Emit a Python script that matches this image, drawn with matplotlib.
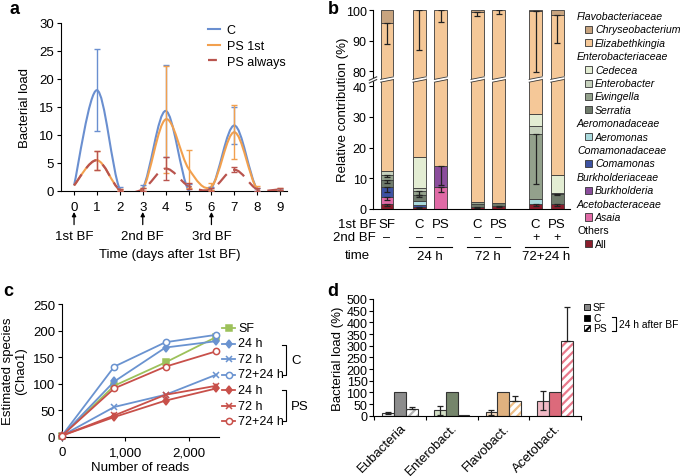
import numpy as np
import matplotlib
matplotlib.use('Agg')
import matplotlib.pyplot as plt
import matplotlib.transforms as mtransforms
from matplotlib.path import Path
from matplotlib.patches import PathPatch, Rectangle, Polygon
from matplotlib.lines import Line2D

plt.rcParams['font.family'] = ['Liberation Sans', 'DejaVu Sans']
plt.rcParams['font.size'] = 8.5
plt.rcParams['hatch.linewidth'] = 1.6

# ---- panel a: bacterial load over time ----
days = [0, 1, 2, 3, 4, 5, 6, 7, 8, 9]
load_c = [1.0, 18.0, 0.3, 0.5, 14.3, 0.1, 0.5, 11.7, 0.3, 0.2]
err_c = [0, 7.3, 0.5, 0.6, 8.2, 1.2, 0.3, 3.3, 0.3, 0.1]
load_ps1 = [1.0, 5.5, 0.2, 0.3, 12.8, 4.0, 0.8, 10.5, 0.3, 0.3]
err_ps1 = [0, 1.7, 0.2, 0.3, 9.5, 3.4, 0.6, 4.8, 0.6, 0.2]
load_psa = [1.0, 5.5, 0.2, 0.3, 4.0, 0.9, 0.3, 3.8, 0.3, 0.3]
err_psa = [0, 1.7, 0.2, 0.3, 2.1, 0.5, 0.3, 0.4, 0.3, 0.2]
bf_days = [0, 3, 6]
bf_labels = ['1st BF', '2nd BF', '3rd BF']

# ---- panel b: relative contribution (stack bottom -> top) ----
b_1st = ['SF', 'C', 'PS', 'C', 'PS', 'C', 'PS']
b_2nd = ['\u2013', '\u2013', '\u2013', '\u2013', '\u2013', '+', '+']
b_time = ['24 h', '72 h', '72+24 h']
others_all = [1.5, 0.8, 0, 0.8, 0.9, 1.5, 1.5]
asaia = [2.5, 0, 7.0, 0, 0, 0, 0]
burkholderia = [0, 0, 7.0, 0, 0, 0, 0]
comamonas = [3.3, 0.6, 0, 0, 0, 0, 0]
aeromonas = [0, 1.2, 0, 0, 0, 1.8, 0]
serratia = [2.0, 2.1, 0, 0.8, 0.9, 0, 3.5]
ewingella = [1.7, 1.1, 0, 0.7, 0, 21.2, 0.3]
enterobacter = [1.5, 0.9, 0, 0, 0, 2.5, 0]
cedecea = [0, 10.3, 0, 0, 0, 4.0, 5.7]
elizabethkingia = [83.3, 83.0, 86.0, 97.2, 98.2, 68.8, 87.3]
chryseobacterium = [4.2, 0, 0, 0.5, 0, 0.2, 1.7]
# downward error bars at top of each segment
err_all = [0.6, 0.4, 0, 0.4, 0.4, 0.5, 0.5]
err_asaia = [1.0, 0, 1.6, 0, 0, 0, 0]
err_burk = [0, 0, 6.3, 0, 0, 0, 0]
err_coma = [1.8, 0, 0, 0, 0, 0, 0]
err_serr = [0.8, 0.8, 0, 0, 0, 0, 0.5]
err_ewing = [0.5, 1.2, 0, 0, 0, 16.5, 0]
err_eliz = [6.8, 13.0, 4.0, 1.5, 1.3, 20.0, 9.0]

# ---- panel c: rarefaction ----
reads = [0, 825, 1635, 2440]
sf_chao = [2, 96, 140, 188]
c24_chao = [2, 104, 168, 180]
c72_chao = [2, 56, 79, 117]
c7224_chao = [2, 132, 178, 192]
ps24_chao = [2, 37, 68, 91]
ps72_chao = [2, 40, 79, 96]
ps7224_chao = [2, 91, 132, 161]

# ---- panel d: bacterial load (%) 24 h after BF ----
d_groups = ['Eubacteria', 'Enterobact.', 'Flavobact.', 'Acetobact.']
d_sf = [11.5, 24, 14, 64]
d_sf_err = [5, 19, 10, 41]
d_c = [100, 100, 100, 100]
d_ps = [27, 3, 64, 318]
d_ps_err = [11, 0, 19, 149]

W, H = 685, 477
fig = plt.figure(figsize=(W / 100, H / 100), dpi=100)


def box(l, t, r, b):
    return [l / W, 1 - b / H, (r - l) / W, (b - t) / H]


def fx(px):
    return px / W


def fy(py):
    return 1 - py / H


def smooth_path(x, y):
    # excel-like smoothed line (catmull-rom as bezier segments)
    n = len(x)
    verts = [(x[0], y[0])]
    codes = [Path.MOVETO]
    for i in range(n - 1):
        i0 = max(i - 1, 0)
        i3 = min(i + 2, n - 1)
        c1 = (x[i] + (x[i + 1] - x[i0]) / 6, y[i] + (y[i + 1] - y[i0]) / 6)
        c2 = (x[i + 1] - (x[i3] - x[i]) / 6, y[i + 1] - (y[i3] - y[i]) / 6)
        verts += [c1, c2, (x[i + 1], y[i + 1])]
        codes += [Path.CURVE4] * 3
    return Path(verts, codes)


def clean(ax):
    ax.spines['top'].set_visible(False)
    ax.spines['right'].set_visible(False)
    ax.tick_params(direction='out', length=3, width=0.8, pad=2)


# ================= a =================
ax = fig.add_axes(box(61, 24, 287, 192))
clean(ax)
blue = '#6a8fd0'
orange = '#f2a04e'
red = '#b9544e'
ax.add_patch(PathPatch(smooth_path(days, load_c), fill=False, ec=blue, lw=1.5, zorder=3))
ax.add_patch(PathPatch(smooth_path(days, load_ps1), fill=False, ec=orange, lw=1.5, zorder=3))
ax.add_patch(PathPatch(smooth_path(days, load_psa), fill=False, ec=red, lw=1.6,
                       linestyle=(0, (6, 3.5)), zorder=4))
for vals, errs, col in [(load_c, err_c, blue), (load_ps1, err_ps1, orange), (load_psa, err_psa, red)]:
    idx = [i for i in range(len(days)) if errs[i] > 0]
    ax.errorbar([days[i] for i in idx], [vals[i] for i in idx], yerr=[errs[i] for i in idx],
                fmt='none', ecolor=col, elinewidth=1, capsize=2, capthick=1, zorder=5)
ax.set_xlim(-0.57, 9.3)
ax.set_ylim(0, 30)
ax.set_xticks(days)
ax.set_yticks([0, 5, 10, 15, 20, 25, 30])
ax.tick_params(axis='both', labelsize=9.5)
ax.tick_params(axis='x', pad=4)
ax.set_ylabel('Bacterial load', fontsize=9.5, labelpad=6)
trans = ax.get_xaxis_transform()
for d, lab in zip(bf_days, bf_labels):
    ax.annotate('', xy=(d, -0.125), xytext=(d, -0.2), xycoords=trans, textcoords=trans,
                arrowprops=dict(arrowstyle='-|>', lw=0.9, color='k', mutation_scale=6,
                                shrinkA=0, shrinkB=0))
    ax.text(d, -0.27, lab, transform=trans, ha='center', va='center', fontsize=9.5)
ax.text(0.48, -0.375, 'Time (days after 1st BF)', transform=ax.transAxes,
        ha='center', va='center', fontsize=9.5)
handles = [Line2D([], [], color=blue, lw=1.5),
           Line2D([], [], color=orange, lw=1.5),
           Line2D([], [], color=red, lw=1.6, linestyle=(0, (4, 2.5)))]
ax.legend(handles, ['C', 'PS 1st', 'PS always'], loc='upper left', frameon=False,
          bbox_to_anchor=(0.6, 1.06), handlelength=1.0, handletextpad=0.5,
          labelspacing=0.3, fontsize=9)

# ================= b =================
species = ['All', 'Asaia', 'Burkholderia', 'Comamonas', 'Aeromonas', 'Serratia',
           'Ewingella', 'Enterobacter', 'Cedecea', 'Elizabethkingia', 'Chryseobacterium']
stack = [others_all, asaia, burkholderia, comamonas, aeromonas, serratia,
         ewingella, enterobacter, cedecea, elizabethkingia, chryseobacterium]
errs_b = [err_all, err_asaia, err_burk, err_coma, None, err_serr,
          err_ewing, None, None, err_eliz, None]
colors_b = ['#8a1d2c', '#e06aa6', '#8b4d9c', '#3d52a2', '#a9d9dc', '#6f7b6b',
            '#93a18c', '#c6d1bd', '#e3edd3', '#f5c898', '#c8a47f']
xpos = np.array([0, 1.5, 2.5, 4.2, 5.2, 6.9, 7.9])
bw = 0.6

ax_lo = fig.add_axes(box(373, 80, 570, 210))
ax_hi = fig.add_axes(box(373, 11, 570, 80))
ax_lo.set_zorder(3)
ax_lo.patch.set_visible(False)
for a in (ax_lo, ax_hi):
    clean(a)
    bottom = np.zeros(len(xpos))
    for vals, col, er in zip(stack, colors_b, errs_b):
        vals = np.array(vals)
        m = vals > 0
        a.bar(xpos[m], vals[m], bw, bottom=bottom[m], color=col, edgecolor='#3a3a3a', lw=0.6, zorder=2)
        top = bottom + vals
        if er is not None:
            er = np.array(er)
            k = er > 0
            a.errorbar(xpos[k], top[k], yerr=[er[k], np.zeros(k.sum())], fmt='none',
                       ecolor='#222222', elinewidth=0.9, capsize=2, capthick=0.9, zorder=4)
        bottom = top
    a.set_xlim(-0.65, 8.5)
    a.tick_params(axis='y', labelsize=9, pad=1.5)
ax_lo.set_ylim(0, 42.3)
ax_lo.set_yticks([0, 10, 20, 30, 40])
ax_hi.set_ylim(77.4, 100)
ax_hi.set_yticks([80, 90, 100])
ax_hi.spines['bottom'].set_visible(False)
ax_hi.set_xticks([])
ax_lo.set_xticks([])

# break marks across bars and axis
for x in xpos:
    ax_lo.add_patch(Polygon([(x - 0.34, 41.2), (x + 0.34, 42.3), (x + 0.34, 43.2), (x - 0.34, 42.1)],
                            closed=True, fc='white', ec='none', clip_on=False, zorder=6))
    for yy in (41.2, 42.1):
        ax_lo.plot([x - bw / 2, x + bw / 2], [yy + 0.07, yy + 0.9], color='#3a3a3a', lw=0.6,
                   clip_on=False, zorder=7)
ax_lo.add_patch(Polygon([(-0.8, 41.2), (-0.45, 42.1), (-0.45, 43.0), (-0.8, 42.1)],
                        closed=True, fc='white', ec='none', clip_on=False, zorder=6))
for yy in (41.0, 41.9):
    ax_lo.plot([-0.82, -0.48], [yy, yy + 1.1], color='#3a3a3a', lw=0.8, clip_on=False, zorder=7)

fig.text(fx(343), fy(110), 'Relative contribution (%)', rotation=90, ha='center', va='center',
         fontsize=9.5)
# x labels under b
fig.text(fx(376), fy(225), '1st BF', ha='right', va='center', fontsize=9.5)
fig.text(fx(376), fy(238), '2nd BF', ha='right', va='center', fontsize=9.5)
fig.text(fx(357), fy(256), 'time', ha='center', va='center', fontsize=9.5)
tb = ax_lo.get_xaxis_transform()
for x, l1, l2 in zip(xpos, b_1st, b_2nd):
    ax_lo.text(x, -0.115, l1, transform=tb, ha='center', va='center', fontsize=9.5, clip_on=False)
    ax_lo.text(x, -0.215, l2, transform=tb, ha='center', va='center', fontsize=9, clip_on=False)
for g, lab in enumerate(b_time):
    x0, x1 = xpos[1 + 2 * g], xpos[2 + 2 * g]
    ax_lo.plot([x0 - 0.5, x1 + 0.5], [-0.29, -0.29], transform=tb, color='k', lw=0.8, clip_on=False)
    ax_lo.text((x0 + x1) / 2, -0.36, lab, transform=tb, ha='center', va='center', fontsize=9.5,
               clip_on=False)

# legend b
legend_rows = [('Flavobacteriaceae', None), ('Chryseobacterium', 10), ('Elizabethkingia', 9),
               ('Enterobacteriaceae', None), ('Cedecea', 8), ('Enterobacter', 7),
               ('Ewingella', 6), ('Serratia', 5), ('Aeromonadaceae', None), ('Aeromonas', 4),
               ('Comamonadaceae', None), ('Comamonas', 3), ('Burkholderiaceae', None),
               ('Burkholderia', 2), ('Acetobacteraceae', None), ('Asaia', 1),
               ('Others', None), ('All', 0)]
for i, (lab, ci) in enumerate(legend_rows):
    yy = 17 + i * 13.4
    ital = 'normal' if lab in ('Others', 'All') else 'italic'
    if ci is None:
        fig.text(fx(577), fy(yy), lab, ha='left', va='center', fontsize=7.6, style=ital)
    else:
        fig.add_artist(Rectangle((fx(585), fy(yy + 3.5)), 7 / W, 7 / H, transform=fig.transFigure,
                                 fc=colors_b[ci], ec='#333333', lw=0.6))
        fig.text(fx(595), fy(yy), lab, ha='left', va='center', fontsize=7.6, style=ital)

# ================= c =================
ax = fig.add_axes(box(62, 305, 219, 437.7))
clean(ax)
green = '#9dc15b'
cblue = '#6a93d0'
cred = '#c8504a'
series_c = [(sf_chao, green, 's', 'SF'), (c24_chao, cblue, 'd', '24 h'), (c72_chao, cblue, 'x', '72 h'),
            (c7224_chao, cblue, 'o', '72+24 h'), (ps24_chao, cred, 'd', '24 h'),
            (ps72_chao, cred, 'x', '72 h'), (ps7224_chao, cred, 'o', '72+24 h')]
for vals, col, mk, lab in series_c:
    ms = 5 if mk == 's' else 4.5
    mfc = 'white' if mk == 'o' else col
    ax.plot(reads, vals, color=col, lw=1.3, marker=mk, ms=ms, mfc=mfc, mec=col, mew=1.1,
            clip_on=False, zorder=3)
ax.set_xlim(0, 2480)
ax.set_ylim(0, 250)
ax.set_xticks([0, 1000, 2000])
ax.set_xticklabels(['0', '1,000', '2,000'])
ax.set_yticks([0, 50, 100, 150, 200, 250])
ax.tick_params(axis='both', labelsize=9.5)
ax.tick_params(axis='x', pad=4)
ax.set_xlabel('Number of reads', fontsize=9.5, labelpad=2)
ax.set_ylabel('Estimated species\n(Chao1)', fontsize=9.5, labelpad=4, linespacing=1.1)
for i, (vals, col, mk, lab) in enumerate(series_c):
    yy = 329 + i * 15.5
    ms = 5 if mk == 's' else 4.5
    mfc = 'white' if mk == 'o' else col
    fig.add_artist(Line2D([fx(222), fx(235)], [fy(yy), fy(yy)], transform=fig.transFigure,
                          color=col, lw=1.3))
    fig.add_artist(Line2D([fx(228.5)], [fy(yy)], transform=fig.transFigure, color=col,
                          marker=mk, ms=ms, mfc=mfc, mec=col, mew=1.1))
    fig.text(fx(238), fy(yy), lab, ha='left', va='center', fontsize=9)
for y0, y1, lab in [(346, 376, 'C'), (391, 422, 'PS')]:
    fig.add_artist(Line2D([fx(282), fx(286), fx(286), fx(282)], [fy(y0), fy(y0), fy(y1), fy(y1)],
                          transform=fig.transFigure, color='k', lw=0.8))
    fig.text(fx(291), fy((y0 + y1) / 2), lab, ha='left', va='center', fontsize=9.5)

# ================= d =================
ax = fig.add_axes(box(373, 300, 581, 416.7))
clean(ax)
sf_cols = ['#f2f2f2', '#d3dfc6', '#f7dcc0', '#f1b9c5']
c_cols = ['#8c8c8c', '#75856b', '#dfb17f', '#dc6a7b']
ps_cols = ['#b5b5b5', '#c6d1bd', '#efbf88', '#e9798b']
gx = np.arange(len(d_groups))
dw = 0.23
ax.bar(gx - dw, d_sf, dw, color=sf_cols, edgecolor='#333333', lw=0.8, zorder=2)
ax.errorbar(gx - dw, d_sf, yerr=d_sf_err, fmt='none', ecolor='#222222', elinewidth=0.9,
            capsize=2.5, capthick=0.9, zorder=4)
ax.bar(gx, d_c, dw, color=c_cols, edgecolor='#333333', lw=0.8, zorder=2)
ax.bar(gx + dw, d_ps, dw, color='white', edgecolor=ps_cols, hatch='////', lw=0, zorder=2)
ax.bar(gx + dw, d_ps, dw, fill=False, edgecolor='#333333', lw=0.8, zorder=3)
k = np.array(d_ps_err) > 0
ax.errorbar((gx + dw)[k], np.array(d_ps)[k], yerr=[np.zeros(k.sum()), np.array(d_ps_err)[k]],
            fmt='none', ecolor='#222222', elinewidth=0.9, capsize=2.5, capthick=0.9, zorder=4)
ax.set_xlim(-0.52, 3.49)
ax.set_ylim(0, 500)
ax.set_yticks(np.arange(0, 501, 50))
ax.set_xticks(gx)
ax.set_xticklabels(d_groups, rotation=45, ha='right', va='top', rotation_mode='anchor', fontsize=9.5)
shift = mtransforms.ScaledTranslation(7 / 100, 0, fig.dpi_scale_trans)
for t in ax.get_xticklabels():
    t.set_transform(t.get_transform() + shift)
ax.tick_params(axis='x', length=0, pad=4)
ax.set_xticks([-0.5, 0.5, 1.5, 2.5, 3.5], minor=True)
ax.tick_params(axis='x', which='minor', length=3, width=0.8)
ax.tick_params(axis='y', labelsize=9, pad=1)
ax.set_ylabel('Bacterial load (%)', fontsize=9.5, labelpad=2)
for i, (lab, fc, hatch) in enumerate([('SF', '#888888', None), ('C', 'black', None),
                                      ('PS', 'white', '////')]):
    yy = 308 + i * 10.5
    fig.add_artist(Rectangle((fx(584), fy(yy + 3)), 6 / W, 6 / H, transform=fig.transFigure,
                             fc=fc, ec='black', lw=0.6, hatch=hatch))
    fig.text(fx(593), fy(yy), lab, ha='left', va='center', fontsize=7.4)
fig.add_artist(Line2D([fx(612), fx(616), fx(616), fx(612)], [fy(318), fy(318), fy(332), fy(332)],
                      transform=fig.transFigure, color='k', lw=0.8))
fig.text(fx(619), fy(325), '24 h after BF', ha='left', va='center', fontsize=7.4)

# panel letters
for lab, x, y in [('a', 10, 9), ('b', 328, 9), ('c', 3, 292), ('d', 327, 292)]:
    fig.text(fx(x), fy(y), lab, ha='left', va='center', fontsize=13, fontweight='bold')

fig.savefig('out.png', dpi=100)
